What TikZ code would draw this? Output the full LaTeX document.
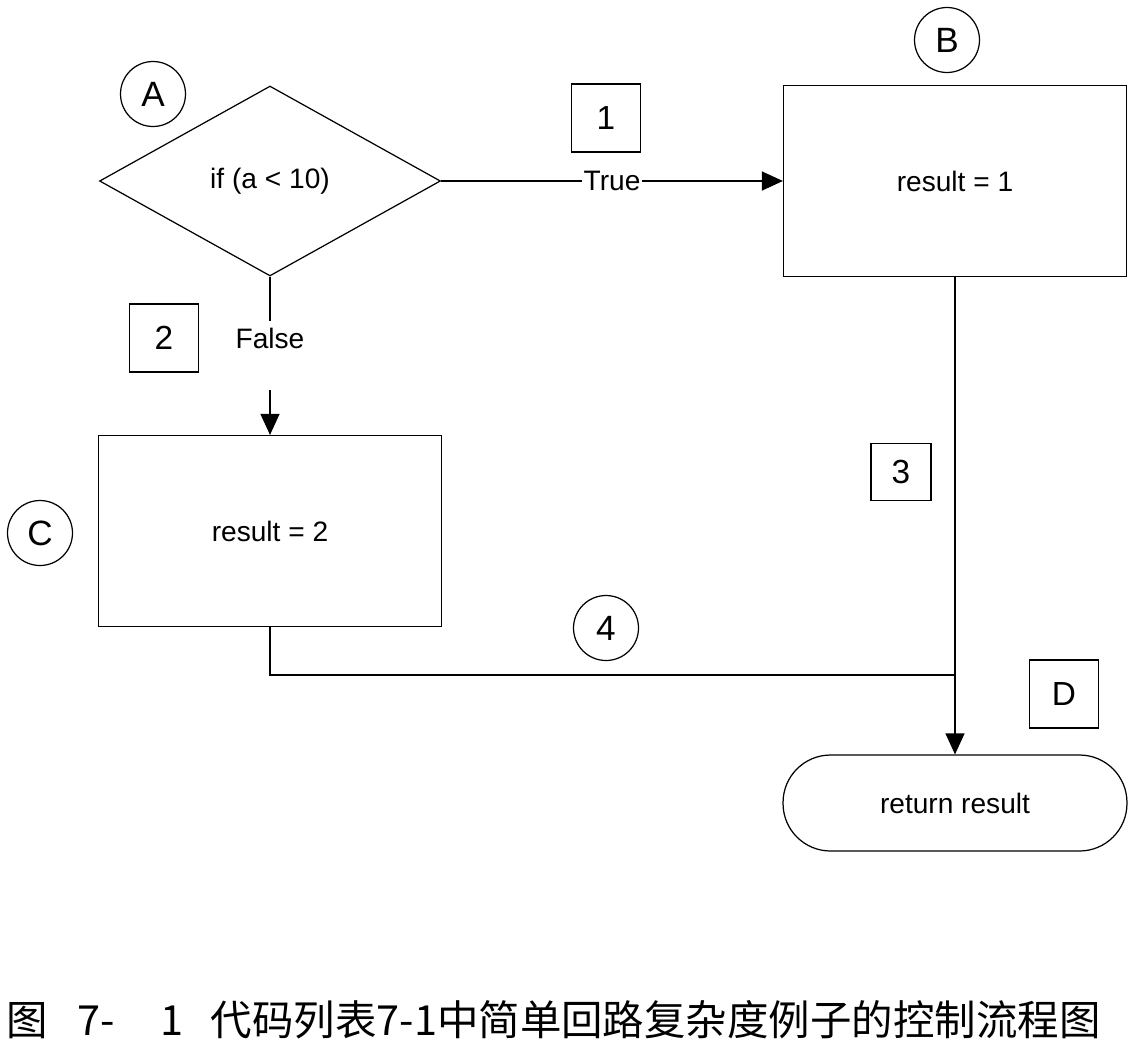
\documentclass[tikz,border=0pt]{standalone}
\usepackage{fontspec}
\setmainfont{Liberation Sans}
\newfontfamily\cjk{Noto Sans CJK SC}
\usetikzlibrary{arrows.meta, shapes.geometric}
\tikzset{
  flow/.style={-{Triangle[length=0.42cm,width=0.38cm]}},
  cond/.style={diamond, draw, inner sep=0pt, minimum width=6.82cm, minimum height=3.8cm},
  proc/.style={rectangle, draw, minimum width=6.86cm, minimum height=3.82cm},
  term/.style={rectangle, draw, rounded corners=0.95cm, minimum width=6.88cm, minimum height=1.92cm},
  circlab/.style={circle, draw, minimum size=1.3cm, inner sep=0pt, font=\fontsize{20}{24}\selectfont},
  sqlab/.style={rectangle, draw, minimum width=1.38cm, minimum height=1.36cm, inner sep=0pt, font=\fontsize{19}{23}\selectfont}
}
\begin{document}
\begin{tikzpicture}[x=0.02cm, y=-0.02cm, line width=0.7pt,
                    every node/.append style={font=\fontsize{16}{19}\selectfont}]
\useasboundingbox (0,0) rectangle (1141,1048);
% blocks
\node[cond] (dia)  at (270,181) {if (a < 10)};
\node[proc] (res1) at (955,181) {result = 1};
\node[proc] (res2) at (270,531) {result = 2};
\node[term] (ret)  at (955,803) {return result};
% node and edge labels
\node[circlab] (lA) at (153,94)  {A};
\node[circlab] (lB) at (947,40)  {B};
\node[circlab] (lC) at (40,533)  {C};
\node[circlab] (e4) at (606,628) {4};
\node[sqlab] (e1) at (606,118)  {1};
\node[sqlab] (e2) at (164,338)  {2};
\node[sqlab, minimum width=1.2cm, minimum height=1.14cm] (e3) at (901,472) {3};
\node[sqlab] (lD) at (1064,694) {D};
% edges
\draw[flow] (dia.east) -- node[fill=white, inner sep=1pt] (tru) {True} (res1.west);
\node (fls) at (270,338) {False};
\coordinate (fgap) at (270,390);
\coordinate (jn) at (955,675);
\draw (dia.south) -- (fls.north);
\draw[flow] (fgap) -- (res2.north);
\draw (res2.south) |- (jn);
\draw[flow] (res1.south) -- (ret.north);
% caption
\node[anchor=west, font=\cjk\fontsize{23.6}{28}\selectfont] (cap) at (0,1020)
  {图\hspace{0.6cm}7-\hspace{0.9cm}1\hspace{0.55cm}代码列表7-1中简单回路复杂度例子的控制流程图};
\end{tikzpicture}
\end{document}
